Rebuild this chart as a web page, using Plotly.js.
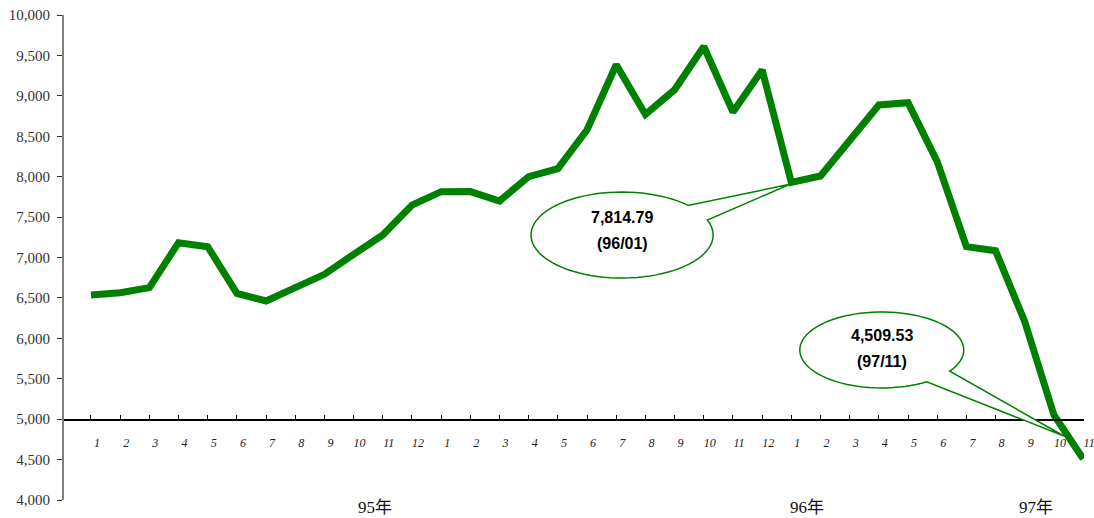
<!DOCTYPE html>
<html>
<head>
<meta charset="utf-8">
<script src="https://cdn.plot.ly/plotly-3.0.1.min.js"></script>
<style>
  html, body { margin: 0; padding: 0; background: #fff; }
  #chart { width: 1094px; height: 518px; }
</style>
</head>
<body>
<div id="chart"></div>
<script>
// ---- data ----
const monthLabels = [
  '1','2','3','4','5','6','7','8','9','10','11','12',
  '1','2','3','4','5','6','7','8','9','10','11','12',
  '1','2','3','4','5','6','7','8','9','10','11'
];
const indexValues = [
  6536, 6564, 6627, 7183, 7134, 6556, 6462, 6627, 6792, 7039, 7278, 7649,
  7814.79, 7815, 7699, 8000, 8100, 8580, 9385, 8770, 9075, 9610, 8800, 9320,
  7930, 8008, 8460, 8887, 8915, 8185, 7134, 7084, 6206, 5051, 4509.53
];
const yearLabels = ['95年', '96年', '97年'];
const calloutValues = ['7,814.79', '4,509.53'];
const calloutDates = ['(96/01)', '(97/11)'];

// ---- layout helpers ----
const xs = monthLabels.map((_, i) => i);
const GREEN = '#008000';

function calloutPath(cx, cy, rx, ry, a0, a1, tipX, tipY) {
  const n = 80;
  let d = '';
  for (let k = 0; k <= n; k++) {
    const a = (a0 + (a1 - a0) * k / n) * Math.PI / 180;
    const px = cx + rx * Math.cos(a);
    const py = cy + ry * Math.sin(a);
    d += (k === 0 ? 'M' : 'L') + px.toFixed(4) + ',' + py.toFixed(3) + ' ';
  }
  d += 'L' + tipX + ',' + tipY + ' Z';
  return d;
}

const c1 = {cx: 18.2, cy: 7278, rx: 3.12, ry: 532, a0: 43.6, a1: 380.5, tx: 23.95, ty: 7905, dt: 0};
const c2 = {cx: 27.1, cy: 5856, rx: 2.81, ry: 470, a0: -34, a1: 303.2, tx: 33.34, ty: 4792, dt: -40};

const shapes = [c1, c2].map(c => ({
  type: 'path', xref: 'x', yref: 'y', layer: 'above',
  path: calloutPath(c.cx, c.cy, c.rx, c.ry, c.a0, c.a1, c.tx, c.ty),
  fillcolor: '#ffffff', line: {color: GREEN, width: 1.5}
}));

const calloutFont = {family: 'Liberation Sans, Arial, sans-serif', size: 16, color: '#000'};
const annotations = [];
[c1, c2].forEach((c, i) => {
  annotations.push({x: c.cx, y: c.cy + 220 + c.dt, xref: 'x', yref: 'y', showarrow: false,
    text: '<b>' + calloutValues[i] + '</b>', font: calloutFont});
  annotations.push({x: c.cx, y: c.cy - 105 + c.dt, xref: 'x', yref: 'y', showarrow: false,
    text: '<b>' + calloutDates[i] + '</b>', font: calloutFont});
});
const yearPos = [9.73, 24.55, 32.4];
yearLabels.forEach((t, i) => {
  annotations.push({x: yearPos[i], y: -0.015, xref: 'x', yref: 'paper', showarrow: false,
    yanchor: 'middle', text: t,
    font: {family: 'Liberation Serif, Noto Sans CJK TC, serif', size: 17, color: '#111'}});
});

const trace = {
  x: xs, y: indexValues, type: 'scatter', mode: 'lines',
  line: {color: GREEN, width: 7, shape: 'linear'},
  hoverinfo: 'skip'
};

const layout = {
  width: 1094, height: 518,
  margin: {l: 64, r: 10, t: 15, b: 18},
  paper_bgcolor: '#fff', plot_bgcolor: '#fff',
  showlegend: false,
  xaxis: {
    range: [-0.925, 34.03],
    anchor: 'free', position: 1 / 6,
    showline: true, linecolor: '#000', linewidth: 1.5,
    showgrid: false, zeroline: false,
    tickmode: 'array', tickvals: xs, ticktext: monthLabels,
    ticks: 'inside', ticklen: 4, tickcolor: '#000', tickwidth: 1,
    ticklabelstandoff: 12, ticklabelshift: 6,
    ticklabeloverflow: 'allow',
    tickfont: {family: 'Liberation Serif, Times New Roman, serif', size: 12, color: '#222', style: 'italic'}
  },
  yaxis: {
    range: [4000, 10000],
    tickmode: 'linear', tick0: 4000, dtick: 500,
    tickformat: ',d',
    showline: true, linecolor: '#808080', linewidth: 2,
    showgrid: false, zeroline: false,
    ticks: 'outside', ticklen: 5, tickcolor: '#333', tickwidth: 1,
    ticklabelstandoff: 4,
    tickfont: {family: 'Liberation Serif, Times New Roman, serif', size: 15, color: '#333'}
  },
  shapes: shapes,
  annotations: annotations
};

Plotly.newPlot('chart', [trace], layout, {displayModeBar: false, staticPlot: true});
</script>
</body>
</html>
